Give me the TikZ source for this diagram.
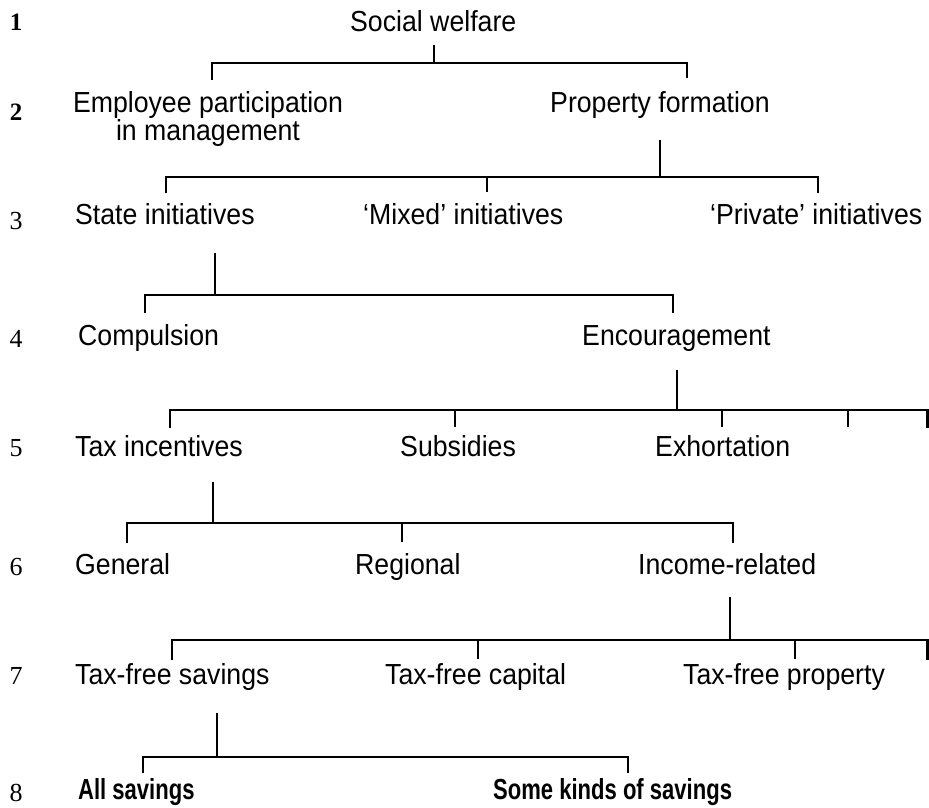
\documentclass[tikz,border=0pt]{standalone}
\usepackage{fontspec}
\setmainfont[FakeStretch=0.92]{Liberation Sans}
\newfontfamily\numfont{Liberation Serif}
\newfontfamily\condfont[FakeStretch=0.76]{Liberation Sans}
\begin{document}
\begin{tikzpicture}[x=1pt,y=-1pt,
  lbl/.style={anchor=base west,inner sep=0pt,font=\fontsize{29}{27}\selectfont},
  blbl/.style={anchor=base west,inner sep=0pt,font=\condfont\bfseries\fontsize{29}{27}\selectfont},
  rownum/.style={anchor=base,inner sep=0pt,font=\numfont\fontsize{26}{26}\selectfont},
  boldnum/.style={rownum,font=\numfont\bfseries\fontsize{25}{25}\selectfont},
  conn/.style={line width=2.6pt,line join=miter,line cap=butt},
  faint/.style={line width=1.6pt}]
\useasboundingbox (0,0) rectangle (929,807);
% row numbers
\node[boldnum] (n1) at (16,30) {1};
\node[boldnum] (n2) at (16,120) {2};
\node[rownum] (n3) at (16,229) {3};
\node[rownum] (n4) at (16,347) {4};
\node[rownum] (n5) at (16,456) {5};
\node[rownum] (n6) at (16,575) {6};
\node[rownum] (n7) at (16,684) {7};
\node[rownum] (n8) at (16,801) {8};
% texts
\node[lbl] (sw) at (350,31) {Social welfare};
\node[anchor=north,inner sep=0pt,align=center,font=\fontsize{29}{27}\selectfont] (ep) at (208,91) {Employee participation\\in management};
\node[lbl] (pf) at (550,112) {Property formation};
\node[lbl] (si) at (75,224) {State initiatives};
\node[lbl] (mi) at (363,224) {`Mixed' initiatives};
\node[lbl] (pi) at (710,224) {`Private' initiatives};
\node[lbl] (co) at (78,345) {Compulsion};
\node[lbl] (en) at (582,345) {Encouragement};
\node[lbl] (ti) at (75,456) {Tax incentives};
\node[lbl] (su) at (400,456) {Subsidies};
\node[lbl] (ex) at (655,456) {Exhortation};
\node[lbl] (ge) at (75,574) {General};
\node[lbl] (re) at (355,574) {Regional};
\node[lbl] (ir) at (638,574) {Income-related};
\node[lbl] (ts) at (75,684) {Tax-free savings};
\node[lbl] (tc) at (385,684) {Tax-free capital};
\node[lbl] (tp) at (683,684) {Tax-free property};
\node[blbl] (as) at (78,799) {All savings};
\node[blbl] (sk) at (493,799) {Some kinds of savings};
% bracket 1
\coordinate (s1t) at (434,45); \coordinate (s1b) at (434,63);
\coordinate (k1a) at (212,80); \coordinate (k1b) at (687,78);
\draw[faint] (s1t) -- (s1b);
\draw[conn] (k1a) |- (k1b |- s1b) -- (k1b);
% bracket 2
\coordinate (s2t) at (660,140); \coordinate (s2b) at (660,177);
\draw[conn] (s2t) -- (s2b);
\draw[conn] (166,193) |- (818,177) -- (818,193);
\draw[conn] (487,177) -- (487,192);
% bracket 3
\draw[conn] (215,253) -- (215,295);
\draw[conn] (145,313) |- (673,295) -- (673,313);
% bracket 4
\draw[conn] (677,370) -- (677,410);
\draw[conn] (170,428) |- (927.5,410) -- (927.5,428);
\draw[conn] (455,410) -- (455,427);
\draw[conn] (722,410) -- (722,427);
\draw[conn] (848,410) -- (848,427);
% bracket 5
\draw[conn] (213,482) -- (213,523);
\draw[conn] (127,543) |- (733,523) -- (733,543);
\draw[conn] (402,523) -- (402,542);
% bracket 6
\draw[conn] (730,597) -- (730,640);
\draw[conn] (172,660) |- (927.5,640) -- (927.5,660);
\draw[conn] (478,640) -- (478,659);
\draw[conn] (795,640) -- (795,659);
% bracket 7
\draw[conn] (217,713) -- (217,757);
\draw[conn] (143,773) |- (628,757) -- (628,773);
\end{tikzpicture}
\end{document}
